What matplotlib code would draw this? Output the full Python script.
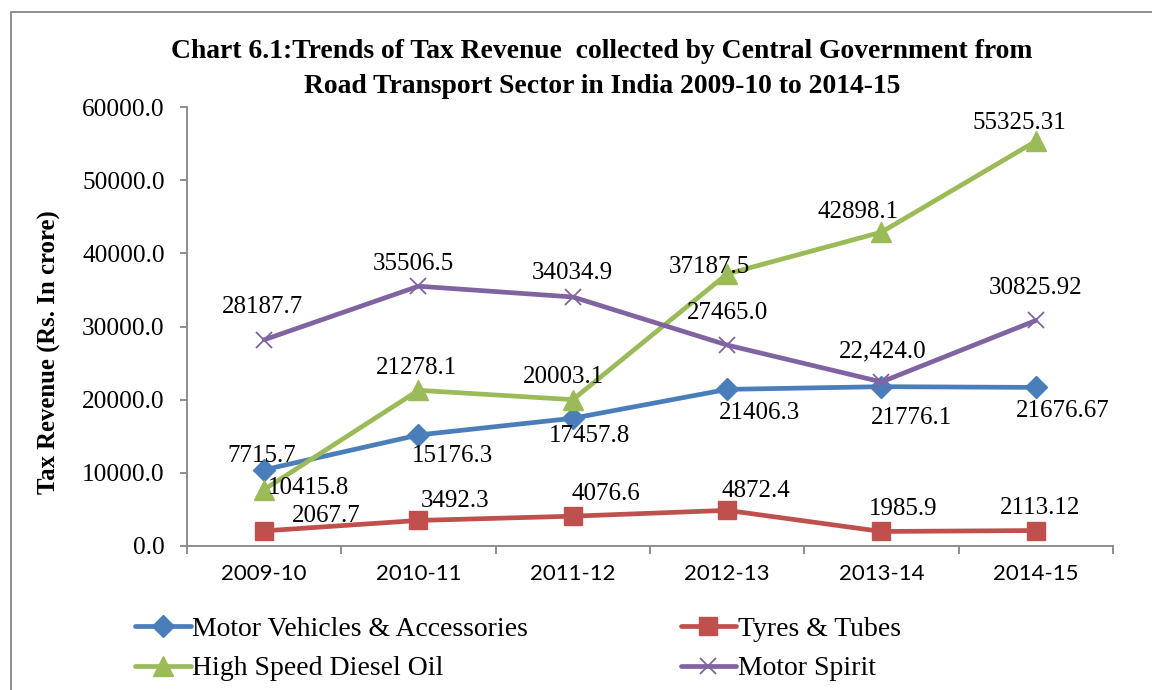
import matplotlib
matplotlib.use("Agg")
import matplotlib.pyplot as plt
from matplotlib.patches import Rectangle
import numpy as np

# data (Rs. in crore)
years = ["2009-10", "2010-11", "2011-12", "2012-13", "2013-14", "2014-15"]
motor_vehicles = [10415.8, 15176.3, 17457.8, 21406.3, 21776.1, 21676.67]
tyres_tubes = [2067.7, 3492.3, 4076.6, 4872.4, 1985.9, 2113.12]
hsd_oil = [7715.7, 21278.1, 20003.1, 37187.5, 42898.1, 55325.31]
motor_spirit = [28187.7, 35506.5, 34034.9, 27465.0, 22424.0, 30825.92]

# data label texts as printed on the chart
mv_labels = ["7715.7", "15176.3", "17457.8", "21406.3", "21776.1", "21676.67"]
tt_labels = ["2067.7", "3492.3", "4076.6", "4872.4", "1985.9", "2113.12"]
hsd_labels = ["10415.8", "21278.1", "20003.1", "37187.5", "42898.1", "55325.31"]
ms_labels = ["28187.7", "35506.5", "34034.9", "27465.0", "22,424.0", "30825.92"]

# label offsets in pixels (dx, dy up)
mv_off = [(-2, 14), (34, -21), (17, -18), (32, -24), (30, -31), (27, -24)]
tt_off = [(62, 15), (37, 19), (33, 22), (29, 19), (22, 22), (4, 23)]
hsd_off = [(44, 2), (-2, 22), (-9, 23), (-18, 7), (-23, 20), (-16, 18)]
ms_off = [(-2, 33), (-5, 22), (-1, 24), (0, 32), (1, 30), (0, 32)]

serif = "Liberation Serif"

fig = plt.figure(figsize=(11.52, 6.9), dpi=100)
ax = fig.add_axes([187 / 1152, 1 - 546 / 690, (1113 - 187) / 1152, (546 - 107) / 690])

x = np.arange(len(years))
series = [
    (motor_vehicles, mv_labels, mv_off, "Motor Vehicles & Accessories", "#4A7EBB", "D", 11, 1.0),
    (tyres_tubes, tt_labels, tt_off, "Tyres & Tubes", "#C0504D", "s", 13.5, 1.0),
    (hsd_oil, hsd_labels, hsd_off, "High Speed Diesel Oil", "#9BBB59", "^", 14, 1.0),
    (motor_spirit, ms_labels, ms_off, "Motor Spirit", "#8064A2", "x", 12, 1.3),
]

handles = []
for vals, labs, offs, name, col, mk, ms, mew in series:
    h, = ax.plot(x, vals, color=col, lw=3.4, marker=mk, ms=ms, mew=mew,
                 mfc=col, mec=col, label=name, solid_capstyle="round")
    handles.append(h)
    for xi, v, t, (dx, dy) in zip(x, vals, labs, offs):
        ax.annotate(t, (xi, v), xytext=(dx, dy), textcoords="offset pixels",
                    ha="center", va="center", fontsize=18, family=serif,
                    color="black")

ax.set_xlim(-0.5, len(years) - 0.5)
ax.set_ylim(0, 60000)
ax.set_yticks(np.arange(0, 60001, 10000))
ax.set_yticklabels([f"{v:.1f}" for v in np.arange(0, 60001, 10000)],
                   family=serif, fontsize=18.2)
ax.set_xticks(x)
ax.set_xticklabels(years, family="Lato", fontsize=16)
ax.set_xticks(np.arange(-0.5, len(years)), minor=True)

axis_col = "#868686"
for s in ["top", "right"]:
    ax.spines[s].set_visible(False)
for s in ["left", "bottom"]:
    ax.spines[s].set_color(axis_col)
    ax.spines[s].set_linewidth(1.3)
ax.tick_params(axis="y", direction="out", length=5, width=1.3, color=axis_col, pad=11)
ax.tick_params(axis="x", which="major", length=0, pad=13)
ax.tick_params(axis="x", which="minor", direction="out", length=6, width=1.3, color=axis_col)

fig.text(602 / 1152, 1 - 69 / 690,
         "Chart 6.1:Trends of Tax Revenue  collected by Central Government from\n"
         "Road Transport Sector in India 2009-10 to 2014-15",
         ha="center", va="center", family=serif, fontweight="bold",
         fontsize=19.9, linespacing=1.5)

fig.text(49 / 1152, 1 - 352 / 690, "Tax Revenue (Rs. In crore)", rotation=90,
         ha="center", va="center", family=serif, fontweight="bold", fontsize=17.8)

leg = fig.legend(handles=[handles[0], handles[2], handles[1], handles[3]],
                 loc="center left", bbox_to_anchor=(135 / 1152, 1 - 649 / 690),
                 ncol=2, frameon=False, prop={"family": serif, "size": 20},
                 handlelength=2.0, handletextpad=0.05, columnspacing=5.5,
                 labelspacing=0.5, borderaxespad=0, borderpad=0)

fig.patches.append(Rectangle((11 / 1152, -0.05), 1.2, 1 - 12 / 690 + 0.05,
                             transform=fig.transFigure, fill=False,
                             edgecolor=axis_col, lw=1.3))

fig.savefig("out.png", dpi=100)
